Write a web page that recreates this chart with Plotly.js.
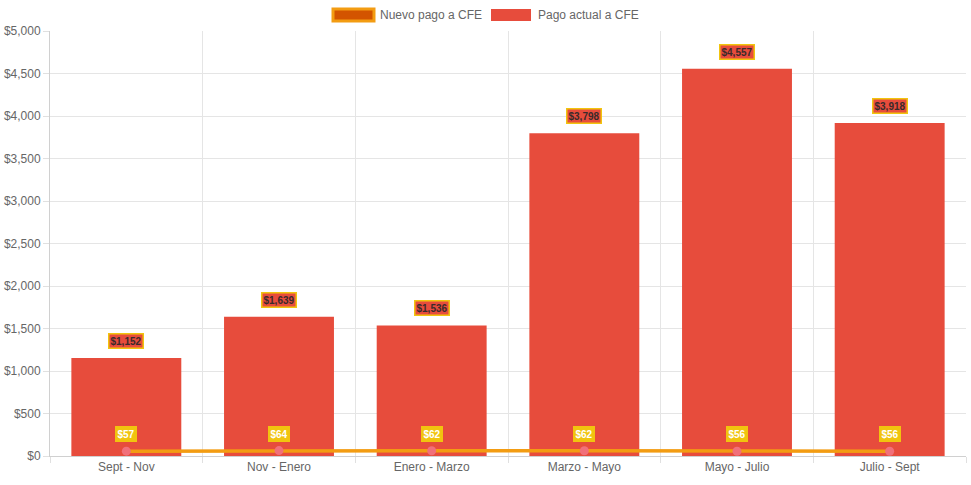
<!DOCTYPE html>
<html><head><meta charset="utf-8">
<script src="https://cdn.plot.ly/plotly-3.0.1.min.js"></script>
<style>html,body{margin:0;padding:0;background:#fff}#c{width:971px;height:485px}</style>
</head><body><div id="c"></div>
<script>
const categories = ["Sept - Nov","Nov - Enero","Enero - Marzo","Marzo - Mayo","Mayo - Julio","Julio - Sept"];
const nuevoPago = [57,64,62,62,56,56];
const pagoActual = [1152,1639,1536,3798,4557,3918];
const yTicks = [0,500,1000,1500,2000,2500,3000,3500,4000,4500,5000];
const seriesNames = ["Nuevo pago a CFE","Pago actual a CFE"];

const fmt = v => "$" + v.toLocaleString("en-US");
const FONT = "Liberation Sans, Arial, Helvetica, sans-serif";

const traces = [
  {type:"bar", x:categories, y:pagoActual, name:seriesNames[1], marker:{color:"#e74c3c"}, width:0.72, hoverinfo:"none"},
  {type:"scatter", mode:"lines+markers", x:categories, y:nuevoPago, name:seriesNames[0],
   line:{color:"#f39c12", width:3.5}, marker:{color:"#f1707a", size:9, line:{color:"#f1707a", width:0}}, hoverinfo:"none"}
];

const annotations = [];
categories.forEach((c,i)=>{
  annotations.push({x:c, y:pagoActual[i], xref:"x", yref:"y", text:"<b>"+fmt(pagoActual[i])+"</b>", showarrow:false, yshift:17,
    bgcolor:"#e74c3c", bordercolor:"#f1c40f", borderwidth:1.5, borderpad:1, font:{family:FONT, size:10, color:"#3a2a2a"}});
  annotations.push({x:c, y:nuevoPago[i], xref:"x", yref:"y", text:"<b>"+fmt(nuevoPago[i])+"</b>", showarrow:false, yshift:17,
    bgcolor:"#f1c40f", bordercolor:"#f1c40f", borderwidth:1.5, borderpad:1, font:{family:FONT, size:10, color:"#ffffff"}});
});
// custom legend
annotations.push({xref:"paper", yref:"paper", x:(378-50)/916, y:1+(31-15)/425, xanchor:"left", yanchor:"middle", showarrow:false,
  text:seriesNames[0], font:{family:FONT, size:12, color:"#666"}});
annotations.push({xref:"paper", yref:"paper", x:(536-50)/916, y:1+(31-15)/425, xanchor:"left", yanchor:"middle", showarrow:false,
  text:seriesNames[1], font:{family:FONT, size:12, color:"#666"}});

const px = v => (v-50)/916;
const py = v => (456-v)/425;
const shapes = [
  {type:"rect", xref:"paper", yref:"paper", x0:px(333), x1:px(374), y0:py(21), y1:py(9), fillcolor:"#d35400", line:{color:"#f39c12", width:3}},
  {type:"rect", xref:"paper", yref:"paper", x0:px(491), x1:px(531), y0:py(21), y1:py(9), fillcolor:"#e74c3c", line:{color:"#e74c3c", width:0}}
];

const layout = {
  width:971, height:485,
  margin:{l:50, r:5, t:31, b:29, pad:0},
  paper_bgcolor:"#fff", plot_bgcolor:"#fff",
  showlegend:false,
  font:{family:FONT, size:12, color:"#666"},
  xaxis:{type:"category", tickson:"boundaries", showgrid:true, gridcolor:"#e5e5e5", gridwidth:1,
    ticks:"outside", ticklen:6, tickcolor:"#e0e0e0", showline:true, linecolor:"#d0d0d0", mirror:false,
    tickfont:{family:FONT, size:12, color:"#666"}, zeroline:false, fixedrange:true},
  yaxis:{range:[0,5000], tickvals:yTicks, ticktext:yTicks.map(fmt), showgrid:true, gridcolor:"#e5e5e5",
    ticks:"outside", ticklen:6, tickcolor:"#e0e0e0", showline:true, linecolor:"#d0d0d0", zeroline:false,
    tickfont:{family:FONT, size:12, color:"#666"}, fixedrange:true},
  bargap:0.28,
  annotations:annotations, shapes:shapes
};

Plotly.newPlot("c", traces, layout, {displayModeBar:false, staticPlot:true});
</script></body></html>
